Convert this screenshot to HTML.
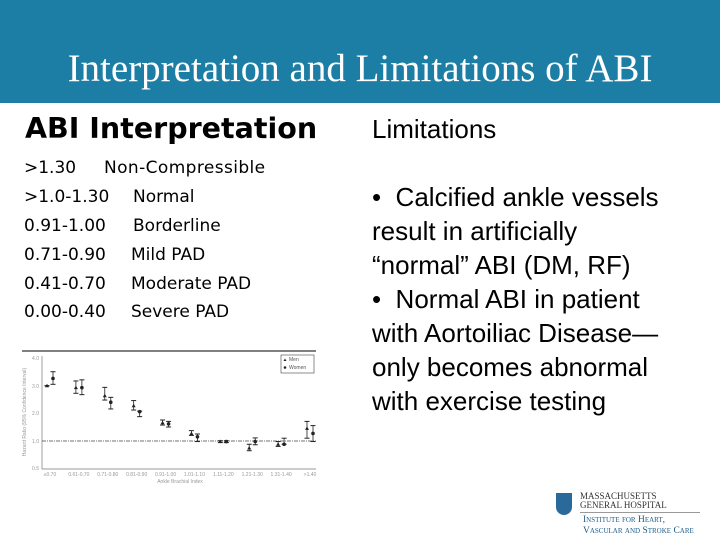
<!DOCTYPE html>
<html><head><meta charset="utf-8"><style>
body{margin:0}
#slide{position:relative;width:720px;height:540px;background:#fff;overflow:hidden;font-family:"DejaVu Sans",sans-serif}
#hdr{position:absolute;left:0;top:0;width:720px;height:103px;background:#1c7ea5}
#title{position:absolute;left:0;top:46px;width:720px;text-align:center;color:#fff;font-family:"Liberation Serif",serif;font-size:39px}
#h2{position:absolute;left:25px;top:112px;font-size:28.5px;font-weight:bold;color:#000}
.r{position:absolute;font-size:17px;color:#000}
#lim{position:absolute;left:372px;top:114px;font-family:"Liberation Sans",sans-serif;font-size:26px}
#bul{position:absolute;left:372px;top:180px;width:305px;font-family:"Liberation Sans",sans-serif;font-size:26px;line-height:34px}
</style></head><body>
<div id="slide">
<div id="hdr"></div>
<div id="title">Interpretation and Limitations of ABI</div>
<div id="h2">ABI Interpretation</div>
<div class="r" style="left:24px;top:158px">&gt;1.30</div>
<div class="r" style="left:104px;top:158px;letter-spacing:0.4px">Non-Compressible</div>
<div class="r" style="left:24px;top:187px">&gt;1.0-1.30</div>
<div class="r" style="left:133px;top:187px">Normal</div>
<div class="r" style="left:24px;top:216px">0.91-1.00</div>
<div class="r" style="left:133px;top:216px">Borderline</div>
<div class="r" style="left:24px;top:245px">0.71-0.90</div>
<div class="r" style="left:131px;top:245px">Mild PAD</div>
<div class="r" style="left:24px;top:274px">0.41-0.70</div>
<div class="r" style="left:131px;top:274px">Moderate PAD</div>
<div class="r" style="left:24px;top:302px">0.00-0.40</div>
<div class="r" style="left:131px;top:302px">Severe PAD</div>
<div id="lim">Limitations</div>
<div id="bul">•&nbsp; Calcified ankle vessels result in artificially “normal” ABI (DM, RF)<br>•&nbsp; Normal ABI in patient with Aortoiliac Disease—<wbr>only becomes abnormal with exercise testing</div>
<svg id="chart" width="720" height="540" style="position:absolute;left:0;top:0"></svg>
<div style="position:absolute;left:556px;top:493px;width:16px;height:22px;background:#2a6a9a;border-radius:0 0 8px 8px"></div>
<div style="position:absolute;left:580px;top:492px;font-family:'Liberation Serif',serif;font-size:9px;line-height:9px;color:#333">MASSACHUSETTS<br>GENERAL HOSPITAL</div>
<div style="position:absolute;left:580px;top:512px;width:120px;border-top:1px solid #999"></div>
<div style="position:absolute;left:583px;top:515px;font-family:'Liberation Serif',serif;font-size:9.5px;line-height:11px;color:#1c5c8a;font-variant:small-caps">Institute for Heart,<br>Vascular and Stroke Care</div>
</div>
<script>
const cats=["≤0.70","0.61-0.70","0.71-0.80","0.81-0.90","0.91-1.00","1.01-1.10","1.11-1.20","1.21-1.30","1.31-1.40",">1.40"];
const yTicks=[0.5,1,2,3,4];
const yTickLabels=["0.5","1.0","2.0","3.0","4.0"];
const men=[3.01,2.94,2.64,2.27,1.65,1.27,0.99,0.87,0.94,1.45];
const menLo=[3.01,2.73,2.48,2.11,1.57,1.2,0.97,0.82,0.9,1.1];
const menHi=[3.01,3.18,2.95,2.46,1.75,1.37,1.01,0.94,0.99,1.7];
const women=[3.27,2.94,2.4,2.05,1.61,1.15,0.99,0.99,0.94,1.27];
const womenLo=[3.06,2.68,2.15,1.87,1.5,0.99,0.97,0.93,0.94,0.99];
const womenHi=[3.51,3.22,2.58,2.07,1.7,1.25,1.01,1.11,1.1,1.55];
const svg=document.getElementById('chart');const NS='http://www.w3.org/2000/svg';
const L=42,R=316,TOP=351,BOT=469;
const tickPix=[468,441,413,386,358];
function y(v){for(let i=0;i<yTicks.length-1;i++){if(v<=yTicks[i+1]||i==yTicks.length-2){const t=(v-yTicks[i])/(yTicks[i+1]-yTicks[i]);return tickPix[i]+t*(tickPix[i+1]-tickPix[i]);}}}
function x(i){return 50+i*(260/(cats.length-1));}
function mk(tag,a,name){const e=document.createElementNS(NS,tag);for(const k in a)e.setAttribute(k,a[k]);


svg.appendChild(e);return e;}
mk('line',{x1:L-20,y1:TOP,x2:R,y2:TOP,stroke:'#000','stroke-width':1},'chart-top-rule');
mk('line',{x1:L,y1:356,x2:L,y2:BOT,stroke:'#777','stroke-width':0.7},'y-axis');
mk('line',{x1:L,y1:BOT,x2:R,y2:BOT,stroke:'#777','stroke-width':0.7},'x-axis');
mk('line',{x1:L,y1:y(1),x2:R,y2:y(1),stroke:'#444','stroke-width':0.8,'stroke-dasharray':'4 1 1 1'},'reference-line');
yTicks.forEach((v,i)=>{const t=mk('text',{x:L-3,y:y(v)+2,'font-size':5,fill:'#999','text-anchor':'end','font-family':'Liberation Sans'},'y-tick-label');t.textContent=yTickLabels[i];});
cats.forEach((c,i)=>{const t=mk('text',{x:x(i),y:BOT+7,'font-size':5,fill:'#999','text-anchor':'middle','font-family':'Liberation Sans'},'x-tick-label');t.textContent=c;});
const yt=mk('text',{x:0,y:0,'font-size':5,fill:'#999','text-anchor':'middle','font-family':'Liberation Sans',transform:'translate(26,412) rotate(-90)'},'y-axis-title');yt.textContent='Hazard Ratio (95% Confidence Interval)';
const xt=mk('text',{x:180,y:BOT+14,'font-size':5,fill:'#999','text-anchor':'middle','font-family':'Liberation Sans'},'x-axis-title');xt.textContent='Ankle Brachial Index';
function ci(cx,lo,hi,name){mk('line',{x1:cx,y1:y(hi),x2:cx,y2:y(lo),stroke:'#222','stroke-width':0.8},name);
mk('line',{x1:cx-2.5,y1:y(hi),x2:cx+2.5,y2:y(hi),stroke:'#222','stroke-width':1},name+'-cap');
mk('line',{x1:cx-2.5,y1:y(lo),x2:cx+2.5,y2:y(lo),stroke:'#222','stroke-width':1},name+'-cap');}
cats.forEach((c,i)=>{const mx=x(i)-3,wx=x(i)+3;
ci(mx,menLo[i],menHi[i],'men-ci');ci(wx,womenLo[i],womenHi[i],'women-ci');
const my=y(men[i]);mk('polygon',{points:`${mx},${my-2} ${mx-2},${my+1.5} ${mx+2},${my+1.5}`,fill:'#222'},'men-point');
mk('circle',{cx:wx,cy:y(women[i]),r:1.8,fill:'#222'},'women-point');});
mk('rect',{x:281,y:355,width:33,height:18,fill:'#fff',stroke:'#444','stroke-width':0.6},'legend-box');
mk('polygon',{points:'285,358.5 283.5,361 286.5,361',fill:'#222'},'legend-men-marker');
const lm=mk('text',{x:289,y:361,'font-size':5,fill:'#555','font-family':'Liberation Sans'},'legend-men');lm.textContent='Men';
mk('circle',{cx:285,cy:367.5,r:1.3,fill:'#222'},'legend-women-marker');
const lw=mk('text',{x:289,y:369,'font-size':5,fill:'#555','font-family':'Liberation Sans'},'legend-women');lw.textContent='Women';
</script>
</body></html>
